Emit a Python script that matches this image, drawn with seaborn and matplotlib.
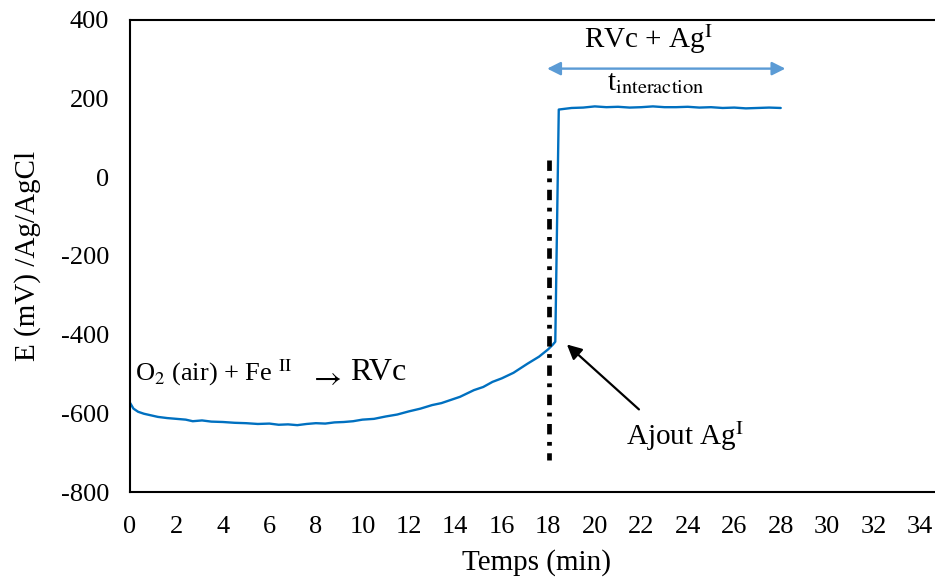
import numpy as np
import pandas as pd
import matplotlib
matplotlib.use("Agg")
import matplotlib.pyplot as plt
import seaborn as sns

temps = [0.0, 0.15, 0.35, 0.6, 0.9, 1.2, 1.6, 2.0, 2.4, 2.7, 3.1, 3.5, 4.0, 4.5,
         5.0, 5.5, 6.0, 6.4, 6.8, 7.2, 7.6, 8.0, 8.4, 8.8, 9.2, 9.6, 10.0, 10.5,
         11.0, 11.5, 12.0, 12.5, 13.0, 13.4, 13.8, 14.2, 14.8, 15.2, 15.6, 16.0,
         16.5, 17.1, 17.6, 18.0, 18.2, 18.3, 18.45, 19.0, 19.5, 20.0, 20.5, 21.0,
         21.5, 22.0, 22.5, 23.0, 23.5, 24.0, 24.5, 25.0, 25.5, 26.0, 26.5, 27.0,
         27.5, 28.0]
potentiel = [-573, -588, -596, -601, -605, -609, -612, -614, -616, -620, -618,
             -621, -622, -624, -625, -627, -626, -629, -628, -630, -627, -625,
             -626, -623, -622, -620, -616, -614, -608, -603, -595, -588, -579,
             -574, -566, -558, -541, -533, -520, -511, -497, -474, -456, -437,
             -425, -418, 172, 176, 177, 180, 178, 179, 177, 178, 180, 178, 178,
             179, 177, 178, 176, 177, 175, 176, 177, 176]

ajout_t = 18.03
ajout_E = [44, -719]

xticks = list(range(0, 35, 2))
yticks = list(range(-800, 401, 200))

df = pd.DataFrame({"Temps": temps, "E": potentiel})

sns.set_style("white")
plt.rcParams["font.family"] = ["Liberation Serif", "DejaVu Serif"]
plt.rcParams["mathtext.fontset"] = "stix"
plt.rcParams["axes.unicode_minus"] = False
plt.rcParams["text.color"] = "black"
plt.rcParams["axes.labelcolor"] = "black"
plt.rcParams["xtick.color"] = "black"
plt.rcParams["ytick.color"] = "black"

fig = plt.figure(figsize=(9.35, 5.83), dpi=100)
ax = fig.add_axes([0.139, 0.156, 0.870, 0.810])

sns.lineplot(data=df, x="Temps", y="E", ax=ax, color="#0070C0", linewidth=1.7,
             sort=False, estimator=None)

# ligne ajout Ag
ax.plot([ajout_t, ajout_t], ajout_E, color="black", linewidth=3.4,
        linestyle=(0, (2.2, 1.6, 0.8, 1.6)))

ax.set_xlim(0, 35)
ax.set_ylim(-800, 400)
ax.set_xticks(xticks)
ax.set_yticks(yticks)
ax.tick_params(axis="both", direction="out", length=5, width=1.2,
               labelsize=19, color="black", labelcolor="black")
ax.tick_params(axis="x", pad=12)
ax.tick_params(axis="y", pad=10)
for s in ["left", "bottom", "top"]:
    ax.spines[s].set_color("black")
    ax.spines[s].set_linewidth(1.5)
ax.spines["right"].set_visible(False)

ax.set_xlabel("Temps (min)", fontsize=21, labelpad=8, color="black")
ax.set_ylabel("E (mV) /Ag/AgCl", fontsize=21, labelpad=14, color="black")

# annotations
ax.text(0.2, -497, r"O$_2$ (air) + Fe $^{\mathrm{II}}$", fontsize=19, va="center")
ax.text(8.39, -512, r"$\rightarrow$", fontsize=22, va="center", ha="center")
ax.text(9.45, -495, "RVc", fontsize=23, va="center")

ax.text(22.3, 352, r"RVc + Ag$^{\mathrm{I}}$", fontsize=21, ha="center", va="center")
ax.text(22.6, 238, r"t$_{\mathrm{interaction}}$", fontsize=21, ha="center", va="center")
ax.annotate("", xy=(17.95, 276), xytext=(28.2, 276),
            arrowprops=dict(arrowstyle="<|-|>", color="#5B9BD5", lw=1.7,
                            mutation_scale=20, shrinkA=0, shrinkB=0))

ax.annotate("", xy=(18.8, -425), xytext=(21.9, -590),
            arrowprops=dict(arrowstyle="-|>", color="black", lw=1.6,
                            mutation_scale=22, shrinkA=0, shrinkB=0))
ax.text(23.9, -658, r"Ajout Ag$^{\mathrm{I}}$", fontsize=21, ha="center", va="center")

fig.savefig("out.png", dpi=100)
